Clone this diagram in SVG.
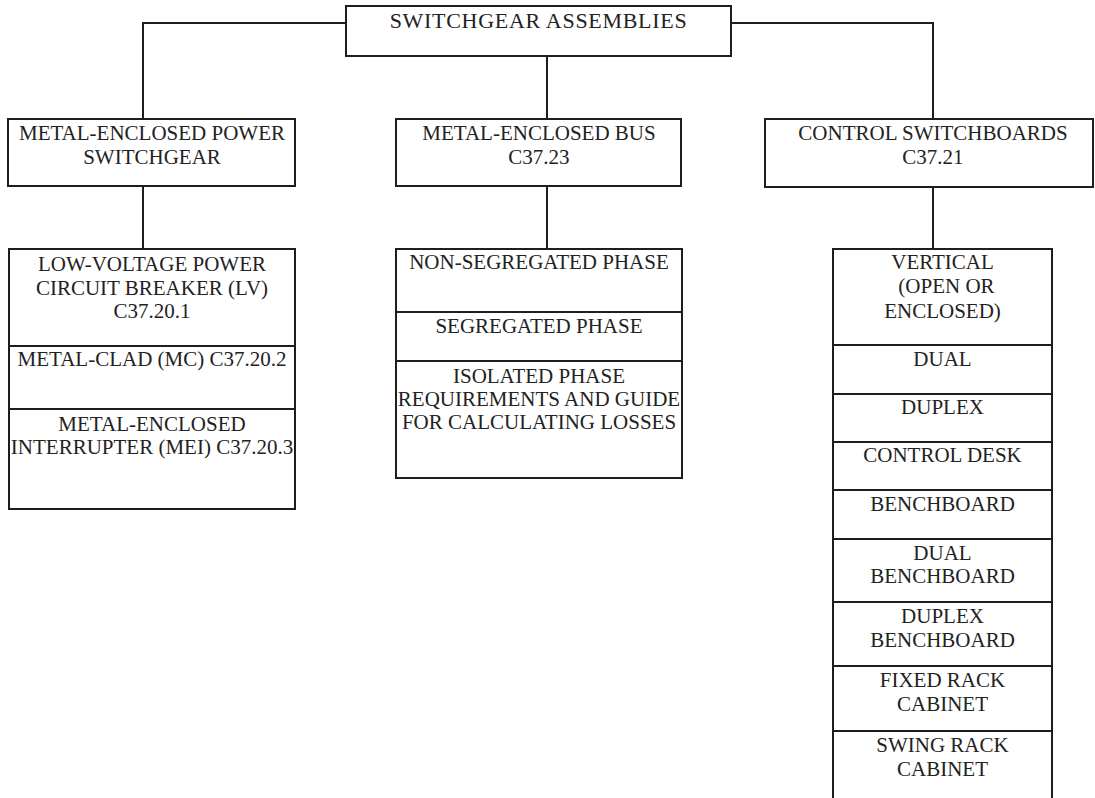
<svg xmlns="http://www.w3.org/2000/svg" width="1095" height="798" viewBox="0 0 1095 798" font-family="Liberation Serif, DejaVu Serif, serif">
<style>
.box{fill:#fff;stroke:#1e1e1e;stroke-width:2}
.div{stroke:#1e1e1e;stroke-width:2}
.con{fill:none;stroke:#1e1e1e;stroke-width:2}
.t{font-family:'Liberation Serif','DejaVu Serif',serif;font-size:21px;fill:#222;text-anchor:middle}
</style>
<rect width="1095" height="798" fill="#fff"/>
<g id="connectors">
<polyline class="con" points="346,23 143,23 143,119"/>
<polyline class="con" points="731,23 933,23 933,119"/>
<line class="con" x1="547" y1="56" x2="547" y2="119"/>
<line class="con" x1="143" y1="186" x2="143" y2="249"/>
<line class="con" x1="547" y1="186" x2="547" y2="249"/>
<line class="con" x1="933" y1="187" x2="933" y2="249"/>
</g>
<g id="root">
<rect class="box" x="346" y="6" width="385" height="50"/>
<text class="t" x="538.5" y="28" style="font-size:22px;letter-spacing:0.7px">SWITCHGEAR ASSEMBLIES</text>
</g>
<g id="mepsg">
<rect class="box" x="8" y="119" width="287" height="67"/>
<text class="t" x="152" y="140">METAL-ENCLOSED POWER</text>
<text class="t" x="152" y="164">SWITCHGEAR</text>
</g>
<g id="mebus">
<rect class="box" x="396" y="119" width="285" height="67"/>
<text class="t" x="539" y="140">METAL-ENCLOSED BUS</text>
<text class="t" x="539" y="164">C37.23</text>
</g>
<g id="ctrl">
<rect class="box" x="765" y="119" width="328" height="68"/>
<text class="t" x="933" y="140">CONTROL SWITCHBOARDS</text>
<text class="t" x="933" y="164">C37.21</text>
</g>
<g id="mepsg-types">
<rect class="box" x="9" y="249" width="286" height="260"/>
<line class="div" x1="9" y1="346" x2="295" y2="346"/>
<line class="div" x1="9" y1="409" x2="295" y2="409"/>
<text class="t" x="152" y="271">LOW-VOLTAGE POWER</text>
<text class="t" x="152" y="295">CIRCUIT BREAKER (LV)</text>
<text class="t" x="152" y="318">C37.20.1</text>
<text class="t" x="152" y="366">METAL-CLAD (MC) C37.20.2</text>
<text class="t" x="152" y="431">METAL-ENCLOSED</text>
<text class="t" x="152" y="454">INTERRUPTER (MEI) C37.20.3</text>
</g>
<g id="mebus-types">
<rect class="box" x="396" y="249" width="286" height="229"/>
<line class="div" x1="396" y1="312" x2="682" y2="312"/>
<line class="div" x1="396" y1="361" x2="682" y2="361"/>
<text class="t" x="539" y="269">NON-SEGREGATED PHASE</text>
<text class="t" x="539" y="333">SEGREGATED PHASE</text>
<text class="t" x="539" y="383">ISOLATED PHASE</text>
<text class="t" x="539" y="406">REQUIREMENTS AND GUIDE</text>
<text class="t" x="539" y="429">FOR CALCULATING LOSSES</text>
</g>
<g id="ctrl-types">
<rect class="box" x="833" y="249" width="219" height="560"/>
<line class="div" x1="833" y1="345" x2="1052" y2="345"/>
<line class="div" x1="833" y1="394" x2="1052" y2="394"/>
<line class="div" x1="833" y1="442" x2="1052" y2="442"/>
<line class="div" x1="833" y1="490" x2="1052" y2="490"/>
<line class="div" x1="833" y1="539" x2="1052" y2="539"/>
<line class="div" x1="833" y1="602" x2="1052" y2="602"/>
<line class="div" x1="833" y1="666" x2="1052" y2="666"/>
<line class="div" x1="833" y1="731" x2="1052" y2="731"/>
<text class="t" x="942.5" y="269">VERTICAL</text>
<text class="t" x="946.5" y="293">(OPEN OR</text>
<text class="t" x="942.5" y="318">ENCLOSED)</text>
<text class="t" x="942.5" y="366">DUAL</text>
<text class="t" x="942.5" y="414">DUPLEX</text>
<text class="t" x="942.5" y="462">CONTROL DESK</text>
<text class="t" x="942.5" y="511">BENCHBOARD</text>
<text class="t" x="942.5" y="560">DUAL</text>
<text class="t" x="942.5" y="583">BENCHBOARD</text>
<text class="t" x="942.5" y="623">DUPLEX</text>
<text class="t" x="942.5" y="647">BENCHBOARD</text>
<text class="t" x="942.5" y="687">FIXED RACK</text>
<text class="t" x="942.5" y="711">CABINET</text>
<text class="t" x="942.5" y="752">SWING RACK</text>
<text class="t" x="942.5" y="776">CABINET</text>
</g>
</svg>
